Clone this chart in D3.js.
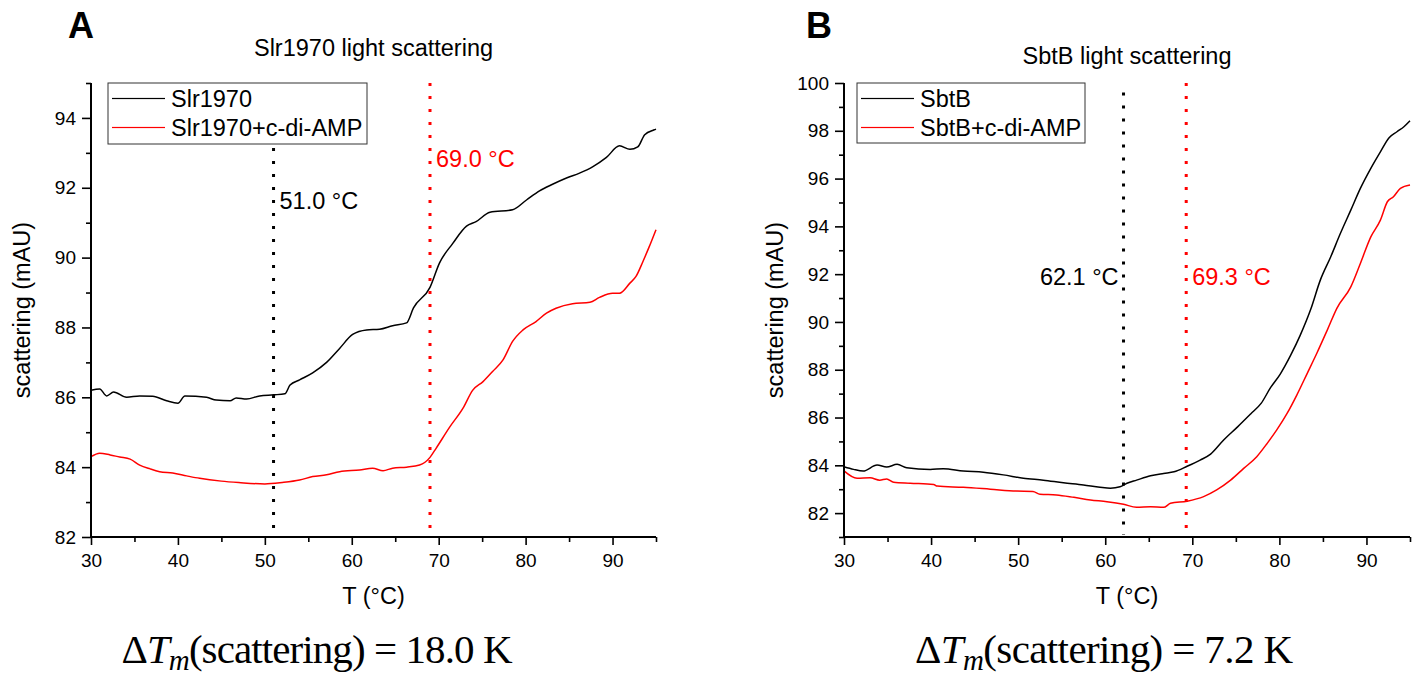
<!DOCTYPE html>
<html><head><meta charset="utf-8">
<script src="https://cdn.jsdelivr.net/npm/d3@7"></script>
<style>body{margin:0;background:#fff}svg{display:block}</style>
</head><body>
<svg id="c" width="1418" height="675" font-family="'Liberation Sans',Arial,sans-serif"></svg>
<script>
// ---------- data ----------
const slrT   = [30,31,31.8,32.6,34.1,35.6,37.1,38.7,40,40.8,43.3,44.4,46,46.7,47.9,49.4,51,52.3,52.9,54,55.5,57.1,58.6,60.1,61.7,63.2,64.7,66.3,67.1,69,70.1,71.6,73.2,74.3,75.9,78.5,80.1,81.6,83.1,84.7,86.2,87.7,89.3,90.8,92,92.9,93.7,94.8,95];
const slrY   = [86.2,86.24,86.04,86.15,86.0,86.04,86.03,85.9,85.83,86.04,86.0,85.92,85.9,85.98,85.95,86.04,86.07,86.1,86.35,86.5,86.7,87.0,87.4,87.8,87.93,87.95,88.05,88.13,88.56,89.15,89.85,90.4,90.9,91.03,91.3,91.37,91.65,91.91,92.1,92.28,92.42,92.6,92.87,93.2,93.1,93.17,93.52,93.66,93.68];
const slrAmpT = [30,31,32.2,33.3,34.5,35.6,36.8,37.9,39.4,41,42.5,45,47,50,52,54,55.5,57.1,58.6,60.9,62.4,63.6,64.7,66.3,67.8,69,69.7,71.3,72.8,73.9,75.1,76.2,77.4,78.5,79.7,81.2,82.4,83.5,85.4,87.4,88.5,90,90.8,92,92.7,93.5,94.2,95];
const slrAmpY = [84.3,84.4,84.35,84.29,84.23,84.06,83.95,83.87,83.83,83.75,83.68,83.6,83.56,83.52,83.56,83.63,83.73,83.78,83.87,83.92,83.97,83.9,83.97,84.0,84.06,84.28,84.54,85.16,85.69,86.2,86.45,86.74,87.07,87.6,87.93,88.17,88.41,88.55,88.68,88.72,88.86,88.98,88.98,89.27,89.46,89.89,90.3,90.8];
const sbtT   = [30,31.1,32.2,33.8,34.9,36.1,37.2,39.9,41.4,43.7,46,48.3,50.6,52.9,55.2,57.5,59.4,60.6,61.7,62.5,63.6,65.2,66.7,67.9,69.4,70.9,72.1,73.6,75.2,76.7,77.9,79,80.1,81.3,82.4,83.6,84.7,85.9,87,88.2,89.3,90.5,91.6,92.6,93.5,94.3,95];
const sbtY   = [83.94,83.83,83.76,84.01,83.93,84.04,83.9,83.83,83.86,83.76,83.71,83.6,83.46,83.38,83.27,83.18,83.08,83.04,83.1,83.25,83.38,83.56,83.66,83.73,83.96,84.22,84.47,85.06,85.61,86.15,86.59,87.26,87.82,88.61,89.45,90.53,91.75,92.73,93.7,94.68,95.59,96.43,97.12,97.71,97.96,98.17,98.42];
const sbtAmpT = [30,31.5,33,34.1,34.9,35.7,37.6,40.3,40.7,43.7,46.8,49.8,51.7,52.5,54.4,56.4,58.3,60.2,62.1,63.6,65.2,66.7,67.5,69.4,71.3,72.8,74.4,75.9,77.4,78.6,79.7,80.9,82,83.2,84.3,85.5,86.6,88.2,89.3,90.5,91.6,92.4,93.1,93.9,95];
const sbtAmpY = [83.77,83.46,83.48,83.38,83.43,83.29,83.25,83.2,83.13,83.08,83.0,82.92,82.9,82.79,82.76,82.66,82.55,82.48,82.37,82.24,82.27,82.24,82.41,82.5,82.69,82.97,83.38,83.87,84.36,84.92,85.48,86.18,86.94,87.85,88.69,89.66,90.57,91.47,92.45,93.56,94.26,95.03,95.24,95.59,95.73];

const xMajorTicks = [30,40,50,60,70,80,90];
const xMinorTicks = [35,45,55,65,75,85,95];
const yMajorA = [82,84,86,88,90,92,94];
const yMinorA = [83,85,87,89,91,93,95];
const yMajorB = [82,84,86,88,90,92,94,96,98,100];
const yMinorB = [81,83,85,87,89,91,93,95,97,99];

const panels = [
  {letter:"A", title:"Slr1970 light scattering", xDom:[30,95], yDom:[82,95],
   yMajor:yMajorA, yMinor:yMinorA,
   series:[{name:"Slr1970",T:slrT,Y:slrY,color:"#000000"},{name:"Slr1970+c-di-AMP",T:slrAmpT,Y:slrAmpY,color:"#ff0000"}],
   tm:[{v:51.0,label:"51.0 °C",color:"#000000",top:95,labelY:91.4,anchor:"start"},
       {v:69.0,label:"69.0 °C",color:"#ff0000",top:95,labelY:92.6,anchor:"start"}],
   delta:"18.0 K"},
  {letter:"B", title:"SbtB light scattering", xDom:[30,95], yDom:[81,100],
   yMajor:yMajorB, yMinor:yMinorB,
   series:[{name:"SbtB",T:sbtT,Y:sbtY,color:"#000000"},{name:"SbtB+c-di-AMP",T:sbtAmpT,Y:sbtAmpY,color:"#ff0000"}],
   tm:[{v:62.1,label:"62.1 °C",color:"#000000",top:99.6,labelY:91.54,anchor:"end"},
       {v:69.3,label:"69.3 °C",color:"#ff0000",top:100,labelY:91.54,anchor:"start"}],
   delta:"7.2 K"}
];

// ---------- layout ----------
const layout = [
  {left:91, right:656, top:83, bottom:537, legend:{x:108,y:83,w:259,h:61}, titleY:56, letterX:68, fx:317, fw:391},
  {left:844, right:1410, top:83, bottom:537, legend:{x:857,y:83,w:228,h:60}, titleY:64, letterX:806, fx:1104, fw:378}
];

const svg = d3.select("#c");

panels.forEach((p,i)=>{
  const L = layout[i];
  const x = d3.scaleLinear().domain(p.xDom).range([L.left,L.right]);
  const y = d3.scaleLinear().domain(p.yDom).range([L.bottom,L.top]);
  const g = svg.append("g");

  g.append("text").attr("x",L.letterX).attr("y",38).attr("font-size",36).attr("font-weight","bold").text(p.letter);
  g.append("text").attr("x",(L.left+L.right)/2).attr("y",L.titleY).attr("text-anchor","middle").attr("font-size",23.5).text(p.title);

  const line = d3.line().x(d=>x(d[0])).y(d=>y(d[1])).curve(d3.curveMonotoneX);
  p.series.forEach(s=>{
    g.append("path").datum(s.T.map((t,k)=>[t,s.Y[k]])).attr("d",line)
      .attr("fill","none").attr("stroke",s.color).attr("stroke-width",1.5).attr("stroke-linejoin","round");
  });

  p.tm.forEach(t=>{
    g.append("line").attr("x1",x(t.v)).attr("x2",x(t.v)).attr("y1",y(t.top)).attr("y2",L.bottom-2)
      .attr("stroke",t.color).attr("stroke-width",3).attr("stroke-dasharray","3,10");
  });

  const lg = g.append("g");
  lg.append("rect").attr("x",L.legend.x).attr("y",L.legend.y).attr("width",L.legend.w).attr("height",L.legend.h)
    .attr("fill","#fff").attr("stroke","#333").attr("stroke-width",1);
  p.series.forEach((s,k)=>{
    const yy = L.legend.y + 15.5 + k*29;
    lg.append("rect").attr("x",L.legend.x+4).attr("width",53).attr("y",yy-0.6).attr("height",1.2)
      .attr("fill",s.color);
    lg.append("text").attr("x",L.legend.x+63).attr("y",yy+8.5).attr("font-size",23.5).text(s.name);
  });

  p.tm.forEach(t=>{
    g.append("text").attr("x",x(t.v)+(t.anchor==="start"?6:-5)).attr("y",y(t.labelY))
      .attr("text-anchor",t.anchor).attr("font-size",23.5).attr("fill",t.color).text(t.label);
  });

  const ax = g.append("g").attr("transform",`translate(0,${L.bottom})`)
    .call(d3.axisBottom(x).tickValues(xMajorTicks).tickSize(8).tickPadding(9).tickFormat(d3.format("d")));
  g.append("g").attr("transform",`translate(0,${L.bottom})`)
    .call(d3.axisBottom(x).tickValues(xMinorTicks).tickSize(5).tickFormat(""))
    .call(a=>a.select(".domain").remove());
  const ay = g.append("g").attr("transform",`translate(${L.left},0)`)
    .call(d3.axisLeft(y).tickValues(p.yMajor).tickSize(9).tickPadding(6).tickFormat(d3.format("d")));
  g.append("g").attr("transform",`translate(${L.left},0)`)
    .call(d3.axisLeft(y).tickValues(p.yMinor).tickSize(5).tickFormat(""))
    .call(a=>a.select(".domain").remove());
  g.selectAll(".domain").attr("stroke","#000").attr("stroke-width",2);
  g.selectAll(".tick line").attr("stroke","#000").attr("stroke-width",1.6);
  g.selectAll(".tick text").attr("font-size",19).attr("fill","#000");
  g.selectAll("g").attr("font-family",null);
  ax.select(".domain").attr("d",`M${L.left-1},0H${L.right}`);
  ay.select(".domain").attr("d",`M0,${L.top}V${L.bottom+1}`);

  g.append("text").attr("x",(L.left+L.right)/2).attr("y",604).attr("text-anchor","middle").attr("font-size",23.5).text("T (°C)");
  g.append("text").attr("transform",`translate(${L.left-61},${(L.top+L.bottom)/2}) rotate(-90)`)
    .attr("text-anchor","middle").attr("font-size",23.5).text("scattering (mAU)");

  const f = g.append("text").attr("x",L.fx).attr("y",663).attr("text-anchor","middle")
    .attr("font-size",41).style("font-family","'Liberation Serif','DejaVu Serif',serif")
    .attr("textLength",L.fw).attr("lengthAdjust","spacing");
  f.append("tspan").text("Δ");
  f.append("tspan").attr("font-style","italic").text("T");
  f.append("tspan").attr("font-style","italic").attr("font-size",29).attr("dy",7).text("m");
  f.append("tspan").attr("dy",-7).text("(scattering) = " + p.delta);
});
</script>
</body></html>
